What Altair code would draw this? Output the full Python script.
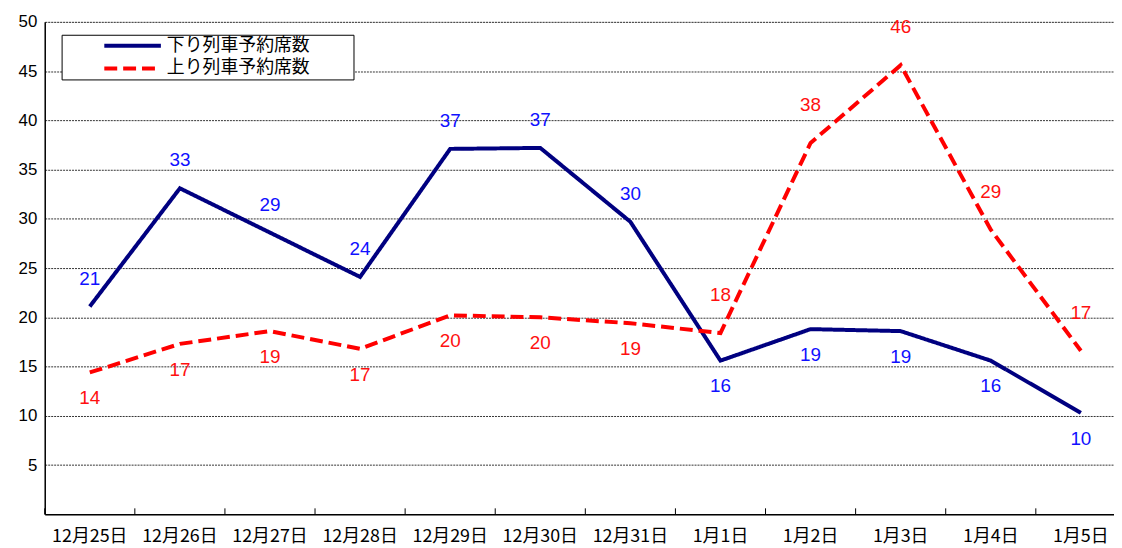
import altair as alt
import pandas as pd

dates = ["12月25日", "12月26日", "12月27日", "12月28日", "12月29日", "12月30日",
         "12月31日", "1月1日", "1月2日", "1月3日", "1月4日", "1月5日"]
series_names = ["下り列車予約席数", "上り列車予約席数"]
down_vals = [21.1, 33.1, 28.6, 24.1, 37.1, 37.2, 29.7, 15.6, 18.8, 18.6, 15.6, 10.3]
up_vals = [14.4, 17.3, 18.6, 16.8, 20.2, 20.0, 19.4, 18.4, 37.7, 45.6, 28.9, 16.6]
down_pos = ["above"] * 7 + ["below"] * 5
up_pos = ["below"] * 7 + ["above"] * 5
y_ticks = [5, 10, 15, 20, 25, 30, 35, 40, 45, 50]

rows = []
for d, v, p in zip(dates, down_vals, down_pos):
    rows.append({"date": d, "series": series_names[0], "value": v, "pos": p})
for d, v, p in zip(dates, up_vals, up_pos):
    rows.append({"date": d, "series": series_names[1], "value": v, "pos": p})
df = pd.DataFrame(rows)

W, H = 1077, 496
xscale = alt.Scale(type="band", domain=dates, range=[0, 1089], paddingInner=0, paddingOuter=0)
yscale = alt.Scale(domain=[0, 50], nice=False)

x_axis = alt.Axis(title=None, labelAngle=0, labelFont="Noto Sans CJK JP",
                  labelFontSize=18, labelColor="black", labelPadding=13,
                  ticks=False, domainColor="black", domainWidth=1.5,
                  grid=False, labelLimit=200, bandPosition=0.5)
y_axis = alt.Axis(title=None, values=y_ticks, labelFont="Liberation Sans",
                  labelFontSize=17, labelColor="black", labelPadding=8,
                  ticks=False, domainColor="black", domainWidth=1.5,
                  grid=True, gridColor="#333333", gridDash=[2, 1], gridWidth=1)


def xe(bp):
    return alt.X("date:N", scale=xscale, sort=dates, bandPosition=bp, axis=x_axis)


y_enc = alt.Y("value:Q", scale=yscale, axis=y_axis)

legend = alt.Legend(title="数", titleOpacity=0, titleOrient="right", titlePadding=25,
                    titleFont="Noto Sans CJK JP", titleFontSize=18,
                    orient="none", legendX=17, legendY=13,
                    fillColor="white", strokeColor="black", padding=1,
                    symbolType="stroke", symbolStrokeWidth=4, symbolSize=3249,
                    symbolOffset=40, labelOffset=4, clipHeight=20,
                    labelFont="Noto Sans CJK JP", labelFontSize=18,
                    labelColor="black", rowPadding=3, labelLimit=400)

base = alt.Chart(df)

lines = base.mark_line(strokeWidth=4, strokeJoin="miter").encode(
    x=xe(0.5),
    y=y_enc,
    color=alt.Color("series:N", scale=alt.Scale(domain=series_names, range=["#000080", "#ff0000"]),
                    legend=legend),
    strokeDash=alt.StrokeDash("series:N", scale=alt.Scale(domain=series_names, range=[[1, 0], [13, 6]]),
                              legend=legend),
)

label_colors = ["#1010ff", "#ff1010"]


def labels(series_idx, pos, dy):
    return base.transform_filter(
        (alt.datum.pos == pos) & (alt.datum.series == series_names[series_idx])
    ).mark_text(
        font="Liberation Sans", fontSize=19, dy=dy, baseline="middle",
        color=label_colors[series_idx]
    ).encode(
        x=xe(0.5),
        y=y_enc,
        text=alt.Text("value:Q", format=".0f"),
    )


down_above = labels(0, "above", -28)
down_below = labels(0, "below", 26)
up_above = labels(1, "above", -38)
up_below = labels(1, "below", 26)

tick_df = pd.DataFrame({"date": dates})
ticks = alt.Chart(tick_df).mark_rule(color="black", strokeWidth=1).encode(
    x=xe(0),
    y=alt.value(H - 6),
    y2=alt.value(H),
)

chart = alt.layer(lines, down_above, down_below, up_above, up_below, ticks).properties(
    width=W, height=H,
    autosize=alt.AutoSizeParams(type="none"),
    padding={"left": 37, "top": 12, "right": 0, "bottom": 32},
).configure_view(stroke=None).configure(background="white")

chart.save("out.html", embed_options={"renderer": "svg", "actions": False})
